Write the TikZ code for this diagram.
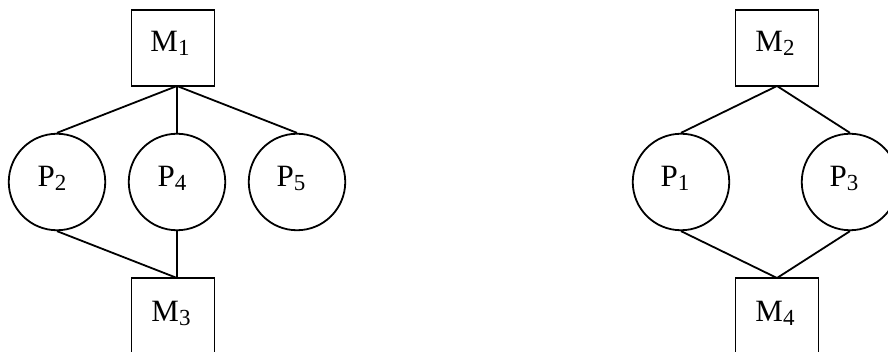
\documentclass[tikz,border=0pt]{standalone}
\usepackage{fontspec}
\setmainfont{Liberation Serif}
\newcommand{\lbl}[2]{\fontsize{31}{31}\selectfont #1\raisebox{-4pt}{\fontsize{23}{23}\selectfont #2}}
\begin{document}
\begin{tikzpicture}[x=1pt,y=-1pt, line width=1.8pt,
  mbox/.style={draw, rectangle, minimum width=83pt, minimum height=76pt, inner sep=0pt},
  pcirc/.style={draw, circle, minimum size=96.5pt, inner sep=0pt},
  txt/.style={anchor=base, inner sep=0pt}]
\useasboundingbox (0,0) rectangle (888,352);
\clip (0,0) rectangle (888,352);
% boxes
\node[mbox] (m1) at (173,48) {};
\node[mbox] (m3) at (173,316) {};
\node[mbox] (m2) at (777,48) {};
\node[mbox] (m4) at (777,316) {};
% circles
\node[pcirc] (p2) at (57,182) {};
\node[pcirc] (p4) at (177,182) {};
\node[pcirc] (p5) at (297,182) {};
\node[pcirc] (p1) at (681,182) {};
\node[pcirc] (p3) at (850,182) {};
% labels
\node[txt] (t1) at (170,52) {\lbl{M}{1}};
\node[txt] (t3) at (171,322) {\lbl{M}{3}};
\node[txt] (t2) at (775,52) {\lbl{M}{2}};
\node[txt] (t4) at (775,322) {\lbl{M}{4}};
\node[txt] (tp2) at (52,187) {\lbl{P}{2}};
\node[txt] (tp4) at (172,187) {\lbl{P}{4}};
\node[txt] (tp5) at (291,187) {\lbl{P}{5}};
\node[txt] (tp1) at (675,187) {\lbl{P}{1}};
\node[txt] (tp3) at (844,187) {\lbl{P}{3}};
% junctions
\coordinate (j1) at (177,86);
\coordinate (j3) at (177,278);
\coordinate (j2) at (777,86);
\coordinate (j4) at (777,278);
% connectors
\draw (j1) -- (p2.north);
\draw (j1) -- (p4.north);
\draw (j1) -- (p5.north);
\draw (p2.south) -- (j3);
\draw (p4.south) -- (j3);
\draw (j2) -- (p1.north);
\draw (j2) -- (p3.north);
\draw (p1.south) -- (j4);
\draw (p3.south) -- (j4);
\end{tikzpicture}
\end{document}
